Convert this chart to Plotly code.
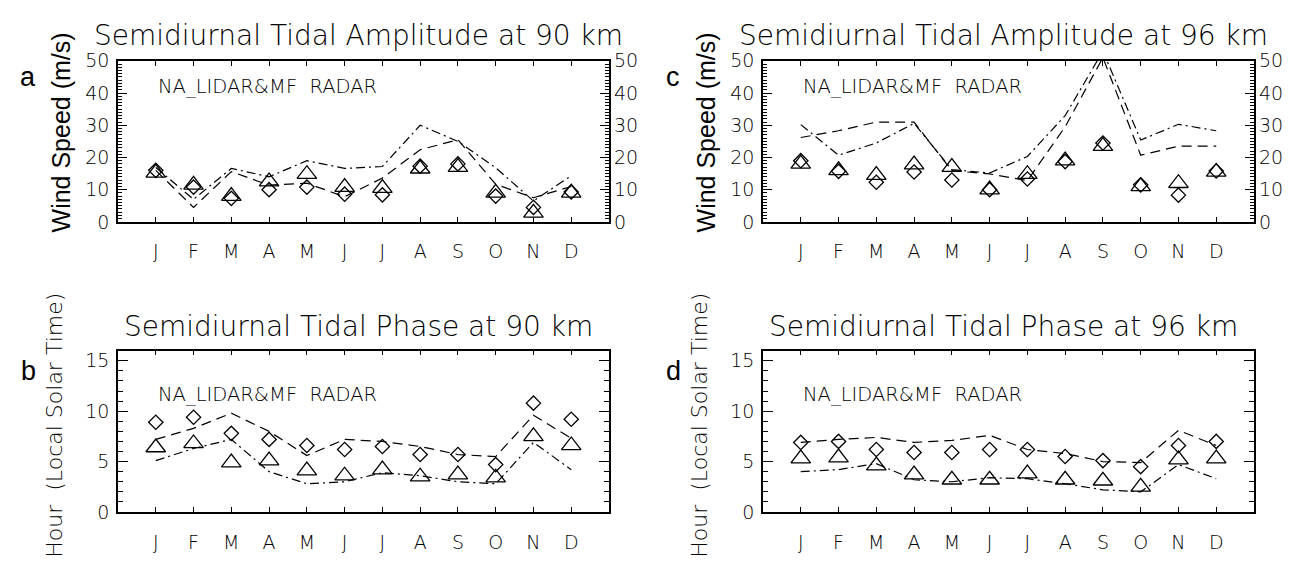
import plotly.graph_objects as go

W, H = 1290, 572

months = ["J", "F", "M", "A", "M", "J", "J", "A", "S", "O", "N", "D"]
month_idx = list(range(1, 13))

# Panel a: semidiurnal amplitude at 90 km (m/s)
amp90_tri = [15.2, 11.5, 8.0, 12.5, 14.8, 10.8, 10.5, 16.5, 17.0, 9.0, 2.8, 9.0]
amp90_dia = [16.0, 10.8, 7.3, 10.0, 10.8, 8.6, 8.4, 17.3, 18.0, 8.0, 4.5, 9.3]
amp90_dash = [16.0, 4.5, 15.6, 11.4, 12.0, 7.8, 13.6, 22.4, 25.5, 11.7, 7.5, 11.0]
amp90_dashdot = [16.9, 7.0, 16.6, 14.0, 19.0, 16.6, 17.2, 30.0, 25.0, 16.8, 6.5, 14.3]

# Panel c: semidiurnal amplitude at 96 km (m/s)
amp96_tri = [18.0, 16.0, 14.5, 17.8, 17.0, 10.0, 14.8, 19.0, 23.5, 11.0, 12.0, 15.5]
amp96_dia = [19.0, 15.7, 12.3, 15.5, 13.0, 10.0, 13.3, 18.7, 24.5, 11.5, 8.3, 15.8]
amp96_dash = [26.2, 28.3, 31.0, 31.0, 15.9, 14.9, 12.8, 29.5, 51.0, 20.7, 23.5, 23.5]
amp96_dashdot = [30.2, 20.7, 24.5, 30.6, 16.2, 15.2, 20.3, 33.0, 53.0, 25.4, 30.3, 28.3]

# Panel b: semidiurnal phase at 90 km (hour, LST)
ph90_tri = [6.4, 6.8, 4.9, 5.1, 4.1, 3.6, 4.2, 3.5, 3.7, 3.4, 7.5, 6.6]
ph90_dia = [8.9, 9.4, 7.8, 7.2, 6.6, 6.2, 6.5, 5.7, 5.7, 4.7, 10.8, 9.2]
ph90_dash = [7.2, 8.3, 9.8, 8.0, 5.6, 7.2, 7.0, 6.5, 5.7, 5.5, 9.6, 7.3]
ph90_dashdot = [5.1, 6.3, 7.2, 4.0, 2.8, 3.0, 3.9, 3.6, 3.0, 2.8, 6.9, 4.2]

# Panel d: semidiurnal phase at 96 km (hour, LST)
ph96_tri = [5.3, 5.4, 4.6, 3.7, 3.2, 3.2, 3.8, 3.2, 3.1, 2.5, 5.2, 5.3]
ph96_dia = [6.9, 7.0, 6.2, 5.9, 5.9, 6.2, 6.2, 5.5, 5.1, 4.5, 6.6, 7.0]
ph96_dash = [6.9, 7.2, 7.4, 6.9, 7.1, 7.6, 6.2, 5.8, 5.0, 4.9, 8.1, 6.6]
ph96_dashdot = [4.0, 4.2, 4.8, 3.2, 3.0, 3.4, 3.3, 2.8, 2.2, 2.0, 4.7, 3.3]

titles = {"a": "Semidiurnal Tidal Amplitude at 90 km",
          "b": "Semidiurnal Tidal Phase at 90 km",
          "c": "Semidiurnal Tidal Amplitude at 96 km",
          "d": "Semidiurnal Tidal Phase at 96 km"}
label_text = "NA_LIDAR&MF  RADAR"

THIN = "DejaVu Sans"
SANS = "Liberation Sans"
TXT = "#000"


def px_x(p):
    return p / W


def px_y(p):
    return 1 - p / H


# panel boxes in pixels (left, right, top, bottom)
boxes = {
    "a": (110, 601, 43.5, 211),
    "b": (110, 601, 345, 512.7),
    "c": (755, 1246, 43.5, 211),
    "d": (755, 1246, 345, 512.7),
}

fig = go.Figure()

panels = [
    ("a", "x", "y", amp90_tri, amp90_dia, amp90_dash, amp90_dashdot),
    ("b", "x2", "y2", ph90_tri, ph90_dia, ph90_dash, ph90_dashdot),
    ("c", "x3", "y3", amp96_tri, amp96_dia, amp96_dash, amp96_dashdot),
    ("d", "x4", "y4", ph96_tri, ph96_dia, ph96_dash, ph96_dashdot),
]

for key, xa, ya, tri, dia, dash, dashdot in panels:
    fig.add_trace(go.Scatter(x=month_idx, y=dash, xaxis=xa, yaxis=ya, mode="lines",
                             line=dict(color="black", width=1.2, dash="10px,6px"),
                             showlegend=False))
    fig.add_trace(go.Scatter(x=month_idx, y=dashdot, xaxis=xa, yaxis=ya, mode="lines",
                             line=dict(color="black", width=1.2, dash="9px,4px,2px,4px"),
                             showlegend=False))
    fig.add_trace(go.Scatter(x=month_idx, y=tri, xaxis=xa, yaxis=ya, mode="markers",
                             marker=dict(symbol="triangle-up-open", size=17, color="black",
                                         line=dict(width=1.3, color="black")),
                             showlegend=False))
    fig.add_trace(go.Scatter(x=month_idx, y=dia, xaxis=xa, yaxis=ya, mode="markers",
                             marker=dict(symbol="diamond-open", size=11, color="black",
                                         line=dict(width=1.3, color="black")),
                             showlegend=False))

tickfont = dict(family=THIN, size=19, color=TXT, weight=200)

layout = dict(width=W, height=H, margin=dict(l=0, r=0, t=0, b=0),
              paper_bgcolor="white", plot_bgcolor="white", showlegend=False)

axis_names = {"a": ("xaxis", "yaxis", "y", "x"), "b": ("xaxis2", "yaxis2", "y2", "x2"),
              "c": ("xaxis3", "yaxis3", "y3", "x3"), "d": ("xaxis4", "yaxis4", "y4", "x4")}

for key, (xl, yl, yref, xref) in axis_names.items():
    l, r, t, b = boxes[key]
    amp = key in ("a", "c")
    layout[xl] = dict(domain=[px_x(l), px_x(r)], range=[0, 13], anchor=yref,
                      tickmode="array", tickvals=month_idx, ticktext=months,
                      ticks="inside", ticklen=5, tickwidth=1, tickcolor="black",
                      showline=True, linecolor="black", linewidth=1.5, mirror="ticks",
                      showgrid=False, zeroline=False, tickfont=tickfont,
                      ticklabelstandoff=12)
    ydict = dict(domain=[px_y(b), px_y(t)], anchor=xref,
                 ticks="inside", tickwidth=1, tickcolor="black",
                 showline=True, linecolor="black", linewidth=1.5, mirror="ticks",
                 showgrid=False, zeroline=False, tickfont=tickfont, ticklabelstandoff=3)
    if amp:
        ydict.update(range=[0, 50], tickvals=[0, 10, 20, 30, 40, 50], ticklen=9,
                     minor=dict(dtick=1, ticklen=4, ticks="inside", tickcolor="black",
                                showgrid=False))
    else:
        ydict.update(range=[0, 16], tickvals=[0, 5, 10, 15], ticklen=10,
                     minor=dict(dtick=1, ticklen=5, ticks="inside", tickcolor="black",
                                showgrid=False))
    layout[yl] = ydict

# right-hand labelled axes for amplitude panels
for name, ov, anc in (("yaxis5", "y", "x"), ("yaxis6", "y3", "x3")):
    layout[name] = dict(overlaying=ov, anchor=anc, side="right", range=[0, 50],
                        tickvals=[0, 10, 20, 30, 40, 50], ticks="", showgrid=False,
                        zeroline=False, showline=False, tickfont=tickfont,
                        ticklabelstandoff=4)
fig.add_trace(go.Scatter(x=[None], y=[None], xaxis="x", yaxis="y5", showlegend=False))
fig.add_trace(go.Scatter(x=[None], y=[None], xaxis="x3", yaxis="y6", showlegend=False))

fig.update_layout(**layout)

annotations = []
title_y = {"a": 17, "b": 320, "c": 17, "d": 320}
letter_y = {"a": 60, "b": 366, "c": 60, "d": 366}
refs = {"a": ("x", "y"), "b": ("x2", "y2"), "c": ("x3", "y3"), "d": ("x4", "y4")}
for key in ["a", "b", "c", "d"]:
    l, r, t, b = boxes[key]
    annotations.append(dict(text=titles[key], x=px_x((l + r) / 2 - 5), y=px_y(title_y[key]),
                            xref="paper", yref="paper", showarrow=False,
                            xanchor="center", yanchor="middle",
                            font=dict(family=THIN, size=28, color=TXT, weight=200)))
    annotations.append(dict(text=key, x=px_x(l - 90), y=px_y(letter_y[key]),
                            xref="paper", yref="paper", showarrow=False,
                            xanchor="center", yanchor="middle",
                            font=dict(family=SANS, size=27, color="#000")))
    xr, yr = refs[key]
    annotations.append(dict(text=label_text, x=1, y=42 if key in ("a", "c") else 11.7,
                            xref=xr, yref=yr, showarrow=False,
                            xanchor="left", yanchor="middle",
                            font=dict(family=THIN, size=19.5, color=TXT, weight=200)))
    if key in ("a", "c"):
        annotations.append(dict(text="Wind Speed (m/s)", x=px_x(l - 57), y=px_y(118),
                                xref="paper", yref="paper", showarrow=False,
                                textangle=-90, xanchor="center", yanchor="middle",
                                font=dict(family=SANS, size=25, color="#000")))
    else:
        annotations.append(dict(text="Hour  (Local Solar Time)", x=px_x(l - 63), y=px_y(423),
                                xref="paper", yref="paper", showarrow=False,
                                textangle=-90, xanchor="center", yanchor="middle",
                                font=dict(family=THIN, size=22, color=TXT, weight=200)))

fig.update_layout(annotations=annotations)

fig.write_html("out.html")
